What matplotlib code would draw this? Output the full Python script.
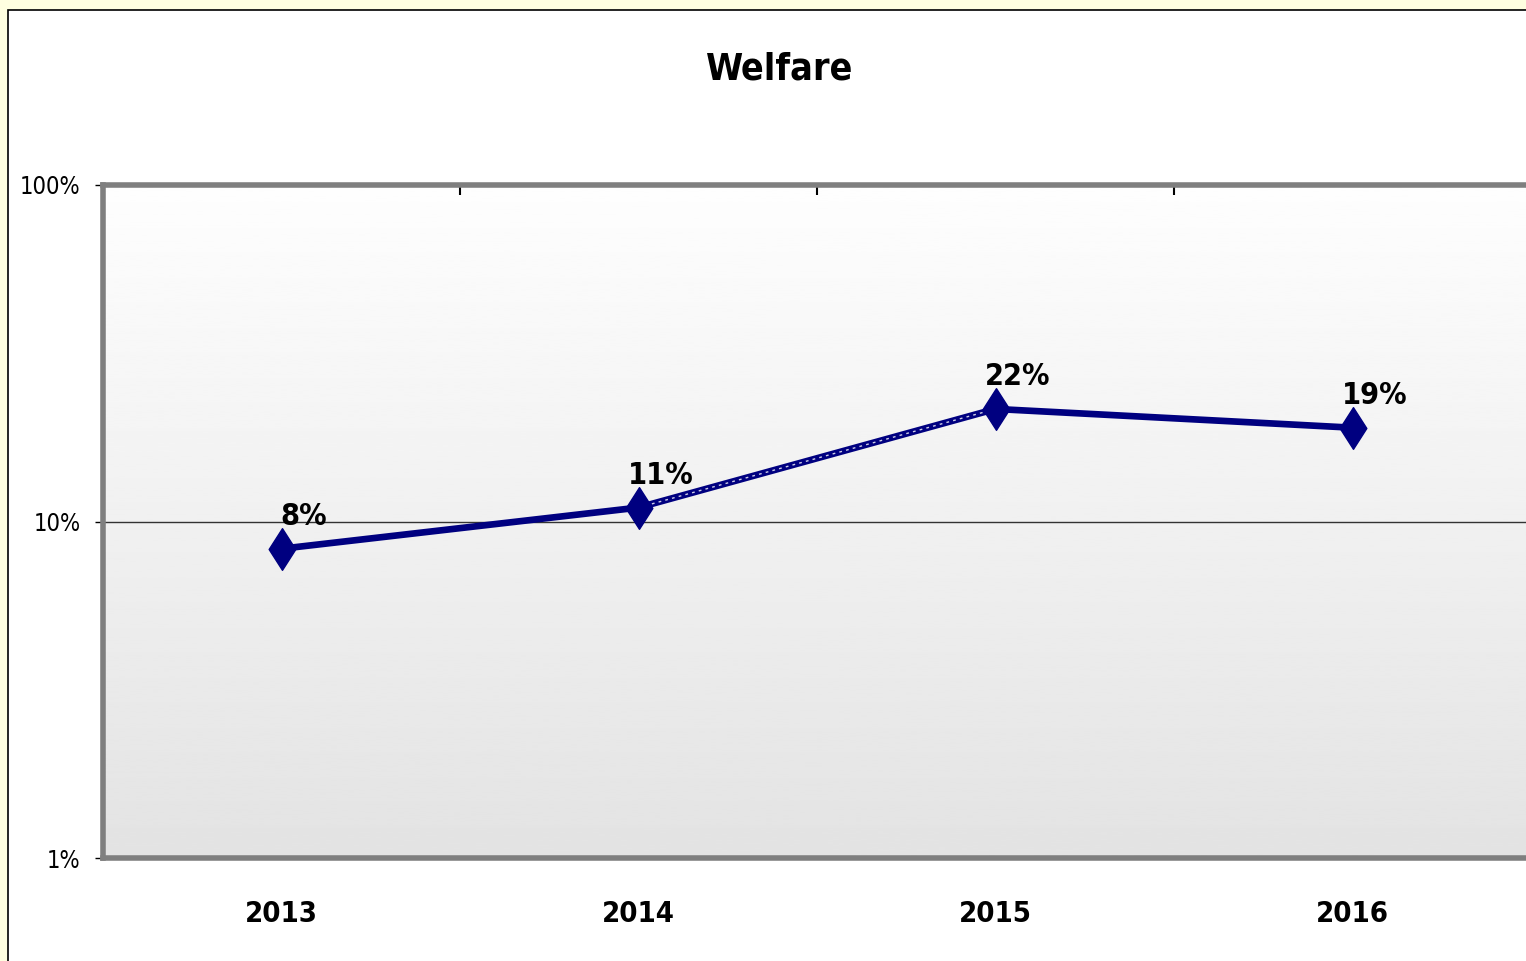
import numpy as np
import matplotlib
matplotlib.use('Agg')
import matplotlib.pyplot as plt
from matplotlib.patches import Rectangle
from matplotlib.path import Path

# Data
years = ['2013', '2014', '2015', '2016']
welfare = [0.083, 0.11, 0.216, 0.19]
point_labels = ['8%', '11%', '22%', '19%']
y_ticks = [0.01, 0.1, 1.0]
y_tick_labels = ['1%', '10%', '100%']

plt.rcParams['font.family'] = ['DejaVu Sans']
plt.rcParams['font.stretch'] = 'condensed'

fig = plt.figure(figsize=(15.26, 9.61), dpi=100)
fig.patch.set_facecolor('#FFFFE0')

# chart area (white with black border)
fig.patches.append(Rectangle((8 / 1526, -0.05), 1.2, 0.05 + (961 - 10) / 961,
                             transform=fig.transFigure, facecolor='white',
                             edgecolor='black', linewidth=1.2, zorder=-5))

ax = fig.add_axes([103 / 1526, 103 / 961, 1428 / 1526, 673 / 961])
ax.set_yscale('log')
ax.set_ylim(0.01, 1.0)
ax.set_xlim(-0.5, 3.5)

# gradient plot background
grad = np.linspace(0.89, 0.995, 256).reshape(-1, 1)
ax.imshow(grad, extent=[0, 1, 0, 1], transform=ax.transAxes, cmap='gray',
          vmin=0, vmax=1, aspect='auto', origin='lower', zorder=0)

ax.axhline(0.1, color='#333333', linewidth=1.0, zorder=1)

x = np.arange(len(years))
diamond = Path([(0, 1), (0.64, 0), (0, -1), (-0.64, 0), (0, 1)],
               [Path.MOVETO, Path.LINETO, Path.LINETO, Path.LINETO, Path.CLOSEPOLY])

ax.plot(x, welfare, color='#000080', linewidth=4.8, zorder=3,
        solid_capstyle='round', solid_joinstyle='round')
# patterned segment between 2014 and 2015
ax.plot(x[1:3], welfare[1:3], color='white', linewidth=1.0, linestyle=(0, (2, 3)),
        zorder=4, alpha=0.8)
ax.plot(x, welfare, linestyle='none', marker=diamond, markersize=30,
        color='#000080', zorder=5)

for xi, v, lab in zip(x, welfare, point_labels):
    ax.annotate(lab, (xi, v), xytext=(16, 13), textcoords='offset points',
                ha='center', va='bottom', fontsize=22, fontweight='bold', zorder=6)

ax.set_xticks(x)
ax.set_xticklabels(years, fontsize=21, fontweight='bold')
ax.set_xticks([0.5, 1.5, 2.5], minor=True)
ax.tick_params(axis='x', which='major', length=0, pad=30)
ax.tick_params(axis='x', which='minor', top=True, bottom=False, direction='in',
               length=7, width=1.5, color='black')

ax.set_yticks(y_ticks)
ax.set_yticklabels(y_tick_labels, fontsize=17)
ax.yaxis.set_minor_locator(matplotlib.ticker.NullLocator())
ax.tick_params(axis='y', which='major', direction='out', length=6, width=1, pad=10)

for side in ['left', 'bottom', 'top']:
    ax.spines[side].set_color('#7F7F7F')
    ax.spines[side].set_linewidth(4)
ax.spines['right'].set_visible(False)

fig.text(780 / 1526, 1 - 70 / 961, 'Welfare', ha='center', va='center',
         fontsize=27, fontweight='bold')

fig.savefig('out.png', dpi=100, facecolor=fig.get_facecolor())
